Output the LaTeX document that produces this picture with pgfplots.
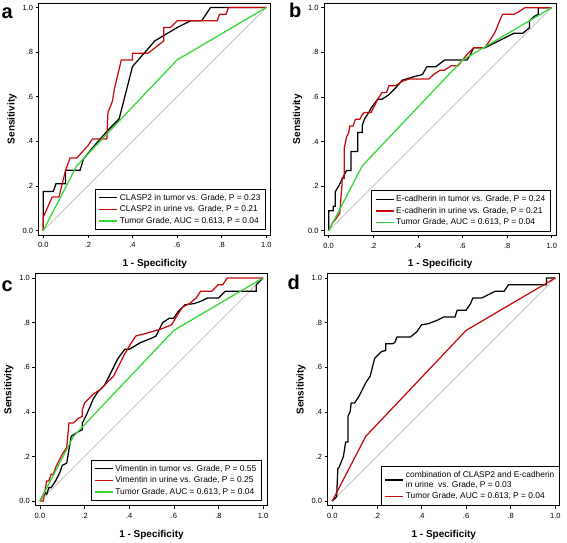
\documentclass[border=0pt]{standalone}
\usepackage{fontspec}
\setmainfont{Liberation Sans}
\usepackage{pgfplots}
\pgfplotsset{compat=1.18}
\definecolor{cred}{RGB}{200,10,10}
\definecolor{cgreen}{RGB}{50,215,50}
\definecolor{cgray}{RGB}{185,185,185}
\pgfplotsset{
 rocaxis/.style={
  scale only axis, width=232pt, height=232pt,
  xmin=-0.02, xmax=1.02, ymin=-0.02, ymax=1.02,
  axis line style={line width=0.8pt},
  xtick={0,0.2,0.4,0.6,0.8,1}, ytick={0,0.2,0.4,0.6,0.8,1},
  xticklabels={0.0,.2,.4,.6,.8,1.0}, yticklabels={0.0,.2,.4,.6,.8,1.0},
  tick align=outside, xtick pos=left, ytick pos=left,
  major tick length=3pt,
  tick style={black, line width=0.6pt},
  ticklabel style={font=\fontsize{7.5}{8}\selectfont, inner sep=1.5pt},
  xticklabel style={yshift=-3pt},
  yticklabel style={xshift=-1pt},
  xlabel={1 - Specificity}, ylabel={Sensitivity},
  label style={font=\bfseries\fontsize{10}{12}\selectfont},
  xlabel style={at={(axis description cs:0.5,-0.125)}, anchor=center},
  ylabel style={at={(axis description cs:-0.115,0.5)}, anchor=center},
  legend cell align=left,
  legend style={draw=black, line width=0.8pt, font=\fontsize{8.4}{10}\selectfont,
    inner xsep=3pt, inner ysep=3pt, row sep=0pt},
  legend image code/.code={\draw[#1, line width=1.4pt] (0pt,0pt) -- (18pt,0pt);},
 },
 diag/.style={cgray, line width=0.7pt, forget plot},
 crv/.style={line width=1.25pt, line join=miter},
}
\begin{document}
\begin{tikzpicture}
\useasboundingbox (0,0) rectangle (567pt,-542pt);
% ---------- panel a ----------
\begin{axis}[rocaxis, at={(38.8pt,-235pt)}, anchor=south west,
  legend style={at={(0.979,0.021)}, anchor=south east}]
\addplot[diag] coordinates {(0,0) (1,1)};
\addplot[crv, black] coordinates {(0,0) (0,0.175) (0.045,0.175) (0.057,0.21) (0.07,0.21) (0.1,0.21) (0.1,0.27) (0.165,0.27) (0.18,0.32) (0.22,0.37) (0.29,0.45) (0.34,0.5) (0.4,0.735) (0.5,0.85) (0.6,0.91) (0.66,0.94) (0.71,0.94) (0.75,1.0) (1,1)};
\addlegendentry{CLASP2 in tumor vs. Grade, P = 0.23}
\addplot[crv, cred] coordinates {(0,0) (0,0.06) (0.04,0.15) (0.07,0.15) (0.1,0.27) (0.12,0.325) (0.15,0.325) (0.2,0.38) (0.22,0.41) (0.27,0.41) (0.285,0.41) (0.29,0.53) (0.31,0.58) (0.32,0.64) (0.35,0.765) (0.4,0.765) (0.4,0.795) (0.47,0.795) (0.54,0.85) (0.54,0.91) (0.57,0.91) (0.6,0.94) (0.78,0.94) (0.79,0.97) (0.82,0.97) (0.83,1.0) (1,1)};
\addlegendentry{CLASP2 in urine vs. Grade, P = 0.21}
\addplot[crv, cgreen] coordinates {(0,0) (0.15,0.29) (0.6,0.765) (1,1)};
\addlegendentry{Tumor Grade, AUC = 0.613, P = 0.04}
\end{axis}
% ---------- panel b ----------
\begin{axis}[rocaxis, at={(324.2pt,-235.2pt)}, anchor=south west,
  legend style={at={(0.976,0.015)}, anchor=south east}]
\addplot[diag] coordinates {(0,0) (1,1)};
\addplot[crv, black] coordinates {(0,0) (0,0.09) (0.02,0.09) (0.02,0.11) (0.03,0.11) (0.03,0.175) (0.05,0.21) (0.06,0.23) (0.08,0.27) (0.1,0.27) (0.1,0.355) (0.13,0.355) (0.13,0.44) (0.15,0.44) (0.15,0.47) (0.16,0.5) (0.18,0.53) (0.19,0.55) (0.22,0.59) (0.24,0.59) (0.27,0.61) (0.3,0.64) (0.33,0.675) (0.38,0.69) (0.42,0.70) (0.44,0.735) (0.48,0.735) (0.52,0.765) (0.62,0.765) (0.63,0.78) (0.65,0.82) (0.7,0.82) (0.8,0.87) (0.83,0.885) (0.87,0.885) (0.9,0.91) (0.9,0.94) (0.92,0.96) (0.94,0.97) (0.94,1.0) (1,1)};
\addlegendentry{E-cadherin in tumor vs. Grade, P = 0.24}
\addplot[crv, cred] coordinates {(0,0) (0.02,0.04) (0.03,0.05) (0.05,0.08) (0.06,0.21) (0.06,0.235) (0.07,0.235) (0.07,0.37) (0.08,0.42) (0.09,0.44) (0.095,0.47) (0.11,0.47) (0.12,0.5) (0.14,0.5) (0.15,0.52) (0.16,0.53) (0.19,0.53) (0.21,0.57) (0.22,0.59) (0.24,0.62) (0.26,0.62) (0.27,0.65) (0.3,0.65) (0.33,0.67) (0.36,0.68) (0.45,0.68) (0.47,0.70) (0.5,0.72) (0.52,0.72) (0.55,0.74) (0.58,0.74) (0.6,0.765) (0.62,0.79) (0.65,0.82) (0.7,0.82) (0.72,0.85) (0.74,0.88) (0.75,0.9) (0.77,0.95) (0.78,0.97) (0.83,0.97) (0.85,0.98) (0.88,1.0) (1,1)};
\addlegendentry{E-cadherin in urine vs. Grade, P = 0.21}
\addplot[crv, cgreen] coordinates {(0,0) (0.15,0.29) (0.6,0.765) (1,1)};
\addlegendentry{Tumor Grade, AUC = 0.613, P = 0.04}
\end{axis}
% ---------- panel c ----------
\begin{axis}[rocaxis, at={(35.5pt,-505.5pt)}, anchor=south west,
  legend style={at={(0.975,0.019)}, anchor=south east}]
\addplot[diag] coordinates {(0,0) (1,1)};
\addplot[crv, black] coordinates {(0,0) (0.02,0.04) (0.03,0.03) (0.04,0.06) (0.05,0.06) (0.07,0.09) (0.09,0.13) (0.1,0.16) (0.12,0.17) (0.13,0.23) (0.14,0.29) (0.17,0.31) (0.19,0.32) (0.19,0.35) (0.21,0.39) (0.24,0.46) (0.26,0.49) (0.29,0.52) (0.32,0.58) (0.35,0.64) (0.38,0.68) (0.4,0.68) (0.45,0.71) (0.5,0.73) (0.52,0.74) (0.55,0.8) (0.58,0.82) (0.6,0.82) (0.62,0.85) (0.65,0.88) (0.69,0.885) (0.72,0.895) (0.75,0.91) (0.8,0.91) (0.83,0.94) (0.97,0.94) (0.97,0.97) (1,1)};
\addlegendentry{Vimentin in tumor vs. Grade, P = 0.55}
\addplot[crv, cred] coordinates {(0,0) (0.015,0) (0.03,0.09) (0.04,0.09) (0.05,0.12) (0.06,0.12) (0.07,0.15) (0.09,0.19) (0.1,0.21) (0.12,0.24) (0.13,0.35) (0.15,0.35) (0.17,0.37) (0.19,0.38) (0.19,0.41) (0.2,0.44) (0.24,0.48) (0.27,0.5) (0.3,0.53) (0.33,0.56) (0.36,0.62) (0.38,0.66) (0.41,0.71) (0.43,0.74) (0.47,0.75) (0.52,0.765) (0.54,0.77) (0.59,0.79) (0.62,0.84) (0.64,0.87) (0.67,0.885) (0.7,0.91) (0.72,0.94) (0.77,0.94) (0.8,0.97) (0.82,0.97) (0.84,1.0) (1,1)};
\addlegendentry{Vimentin in urine vs. Grade, P = 0.25}
\addplot[crv, cgreen] coordinates {(0,0) (0.15,0.29) (0.6,0.765) (1,1)};
\addlegendentry{Tumor Grade, AUC = 0.613, P = 0.04}
\end{axis}
% ---------- panel d ----------
\begin{axis}[rocaxis, at={(327.8pt,-505.5pt)}, anchor=south west,
  legend style={at={(1,0)}, anchor=south east}]
\addplot[diag] coordinates {(0,0) (1,1)};
\addplot[crv, black] coordinates {(0,0) (0.02,0.02) (0.02,0.03) (0.025,0.145) (0.03,0.15) (0.04,0.175) (0.05,0.2) (0.06,0.265) (0.07,0.265) (0.07,0.38) (0.08,0.4) (0.085,0.44) (0.1,0.44) (0.12,0.47) (0.15,0.53) (0.17,0.56) (0.19,0.64) (0.2,0.65) (0.22,0.67) (0.24,0.675) (0.24,0.705) (0.27,0.705) (0.28,0.71) (0.29,0.735) (0.35,0.735) (0.38,0.76) (0.4,0.79) (0.43,0.795) (0.47,0.81) (0.5,0.825) (0.55,0.825) (0.56,0.855) (0.6,0.855) (0.62,0.885) (0.63,0.91) (0.67,0.91) (0.7,0.925) (0.73,0.94) (0.77,0.94) (0.79,0.97) (0.96,0.97) (0.96,1.0) (1,1)};
\addlegendentry{\shortstack[l]{combination of CLASP2 and E-cadherin\\in urine \ vs. Grade, P = 0.03}}
\addplot[crv, cred] coordinates {(0,0) (0.15,0.29) (0.6,0.765) (1,1)};
\addlegendentry{Tumor Grade, AUC = 0.613, P = 0.04}
\end{axis}
% ---------- panel letters ----------
\node[anchor=base west, inner sep=0pt, font=\bfseries\fontsize{20}{22}\selectfont] at (1.5pt,-18pt) {a};
\node[anchor=base west, inner sep=0pt, font=\bfseries\fontsize{20}{22}\selectfont] at (289pt,-17.5pt) {b};
\node[anchor=base west, inner sep=0pt, font=\bfseries\fontsize{20}{22}\selectfont] at (1.5pt,-291pt) {c};
\node[anchor=base west, inner sep=0pt, font=\bfseries\fontsize{20}{22}\selectfont] at (287.5pt,-289.5pt) {d};
\end{tikzpicture}
\end{document}
